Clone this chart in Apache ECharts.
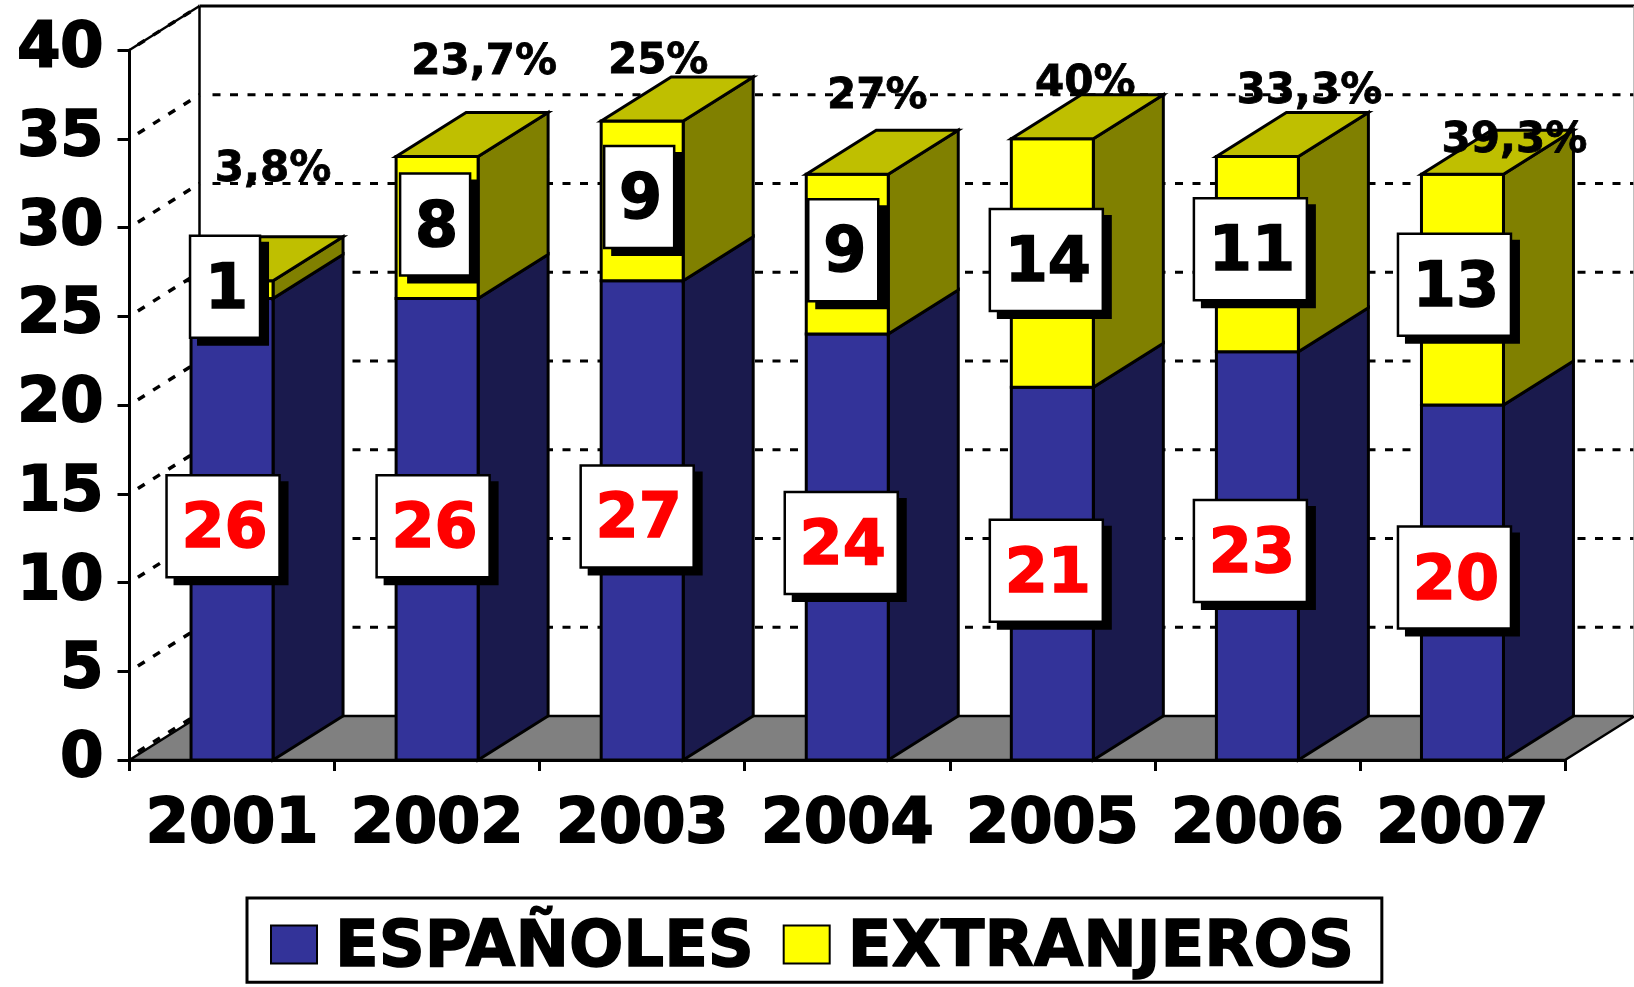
<!DOCTYPE html>
<html><head><meta charset="utf-8">
<style>html,body{margin:0;padding:0;background:#fff}#c{width:1634px;height:987px}</style>
<script src="https://cdn.jsdelivr.net/npm/echarts@6/dist/echarts.min.js"></script>
</head><body><div id="c"></div>
<script>
const years = ['2001','2002','2003','2004','2005','2006','2007'];
const espanoles = [26,26,27,24,21,23,20];
const extranjeros = [1,8,9,9,14,11,13];
const percentLabels = ['3,8%','23,7%','25%','27%','40%','33,3%','39,3%'];
const yTicks = [0,5,10,15,20,25,30,35,40];
// hand-placed annotation offsets (px) from each column's front-top centre
const pctShift = [[41,-111],[47,-93],[16,-59],[30,-77],[33,-55],[52,-64],[52,-33]];
const pctHalo = [false,false,true,true,true,false,false];
// hand-placed nudges (px) of the value boxes around each segment's centre
const boxNudge = [[-3,0],[2,0],[1,-1],[0,-1],[0,0],[-1,-2],[-2,-2]];

const FONT = '"DejaVu Sans"';
const DX = 70, DY = -44, BAR = 82, STROKE = 3;
const chart = echarts.init(document.getElementById('c'), null, {renderer:'canvas'});

function poly(points, fill){
  return {type:'polygon', shape:{points}, style:{fill, stroke:'#000', lineWidth:STROKE, lineJoin:'miter'}};
}
function segment(api, lo, hi, front, side, top){
  const c = api.coord([api.value(0), lo]);
  const t = api.coord([api.value(0), hi]);
  const l = c[0]-BAR/2, r = c[0]+BAR/2, b = c[1], u = t[1];
  const kids = [
    poly([[r,b],[r+DX,b+DY],[r+DX,u+DY],[r,u]], side),
    poly([[l,b],[r,b],[r,u],[l,u]], front)
  ];
  if (top) kids.push(poly([[l,u],[r,u],[r+DX,u+DY],[l+DX,u+DY]], top));
  return kids;
}
function box(api, lo, hi, text, color, nudge){
  const c = api.coord([api.value(0), (lo+hi)/2]);
  const two = String(text).length>1;
  const w = two ? 113 : 70, h = 102;
  const x = c[0]-(two?6:4)-w/2+nudge[0], y = c[1]-3-h/2+nudge[1];
  return [
    {type:'rect', z2:50, shape:{x:x+7,y:y+6,width:w+2,height:h+2}, style:{fill:'#000'}},
    {type:'rect', z2:51, shape:{x,y,width:w,height:h}, style:{fill:'#fff',stroke:'#000',lineWidth:2.5}},
    {type:'text', z2:52, style:{text:String(text),x:x+w/2+1.5,y:y+h/2+5,align:'center',verticalAlign:'middle',
      font:'bold 62px '+FONT,fill:color,stroke:color,lineWidth:1.5}}
  ];
}
const option = {
  animation:false,
  backgroundColor:'#fff',
  grid:{left:129.5,right:69,top:50,bottom:227,containLabel:false},
  legend:{
    left:247, top:898, orient:'horizontal', selectedMode:false,
    borderColor:'#000', borderWidth:3, backgroundColor:'#fff',
    padding:[9.5,27,0,23], itemWidth:46, itemHeight:38, itemGap:28, icon:'rect',
    formatter:'{n|{name}}',
    textStyle:{
      fontFamily:FONT,fontWeight:'bold',fontSize:64,color:'#000',
      rich:{n:{fontFamily:FONT,fontWeight:'bold',fontSize:64,lineHeight:60,color:'#000',padding:[10,0,0,13],
        textBorderColor:'#000',textBorderWidth:1.5}}
    },
    data:['ESPAÑOLES','EXTRANJEROS']
  },
  xAxis:{type:'category',data:years,boundaryGap:true,
    axisLine:{lineStyle:{color:'#000',width:3}},
    axisTick:{show:true,length:11,lineStyle:{color:'#000',width:3}},
    axisLabel:{fontFamily:FONT,fontWeight:'bold',fontSize:62,color:'#000',margin:35,interval:0,
      textBorderColor:'#000',textBorderWidth:2},
    splitLine:{show:false}
  },
  yAxis:{type:'value',min:0,max:40,interval:5,
    axisLine:{show:true,lineStyle:{color:'#000',width:3}},
    axisTick:{show:true,length:12,lineStyle:{color:'#000',width:3}},
    axisLabel:{fontFamily:FONT,fontWeight:'bold',fontSize:62,color:'#000',margin:26,padding:[8,0,0,0],
      textBorderColor:'#000',textBorderWidth:2},
    splitLine:{show:false}
  },
  series:[
    { // floor and back walls, driven by the value ticks
      type:'custom', name:'walls', silent:true, z:1, legendHoverLink:false,
      coordinateSystem:'cartesian2d', clip:false,
      data:yTicks.map(v=>[years[0],v]),
      renderItem(params, api){
        const v = api.value(1);
        const a = api.coord([years[0],v]);
        const g = params.coordSys;
        const left = g.x, right = g.x+g.width, y = a[1];
        const kids = [];
        const dashed = {fill:null,stroke:'#000',lineWidth:3.5,lineDash:[8,10]};
        const start = 0.12;
        if (v===0){
          kids.push({type:'polygon',shape:{points:[[left,y],[right,y],[right+DX,y+DY],[left+DX,y+DY]]},
            style:{fill:'#808080',stroke:'#000',lineWidth:2.5}});
          kids.push({type:'line',shape:{x1:left+DX*start,y1:y+DY*start-3,x2:left+DX,y2:y+DY-3},style:dashed});
        } else {
          kids.push({type:'line',shape:{x1:left+DX*start,y1:y+DY*start,x2:left+DX,y2:y+DY},style:dashed});
          if (v===40){
            kids.push({type:'line',shape:{x1:left,y1:y,x2:left+DX,y2:y+DY},style:{stroke:'#000',lineWidth:2.5}});
            kids.push({type:'line',shape:{x1:left+DX,y1:y+DY,x2:right+DX,y2:y+DY},style:{stroke:'#000',lineWidth:3}});
          } else {
            kids.push({type:'line',shape:{x1:left+DX+13,y1:y+DY,x2:right+DX,y2:y+DY},
              style:{stroke:'#000',lineWidth:3,lineDash:[8,9.5]}});
          }
        }
        if (v===40){
          const base = api.coord([years[0],0])[1];
          kids.push({type:'line',shape:{x1:left+DX,y1:y+DY,x2:left+DX,y2:base+DY},style:{stroke:'#000',lineWidth:2.5}});
          kids.push({type:'line',shape:{x1:right+DX-1,y1:y+DY,x2:right+DX-1,y2:base+DY},style:{stroke:'#aaa',lineWidth:1.5}});
        }
        return {type:'group',children:kids};
      }
    },
    {
      type:'custom', name:'ESPAÑOLES', z:5, clip:false,
      coordinateSystem:'cartesian2d', itemStyle:{color:'#333399',borderColor:'#000',borderWidth:3},
      data:years.map((y,i)=>[y,espanoles[i]]),
      renderItem(params, api){
        return {type:'group',children:segment(api,0,api.value(1),'#333399','#1A1A4D',null)};
      }
    },
    {
      type:'custom', name:'EXTRANJEROS', z:6, clip:false,
      coordinateSystem:'cartesian2d', itemStyle:{color:'#FFFF00',borderColor:'#000',borderWidth:3},
      data:years.map((y,i)=>[y,espanoles[i],extranjeros[i]]),
      renderItem(params, api){
        const lo = api.value(1), hi = lo+api.value(2);
        return {type:'group',children:segment(api,lo,hi,'#FFFF00','#808000','#BFBF00')};
      }
    },
    { // value boxes and percentages on top of all columns
      type:'custom', name:'labels', z:10, silent:true, clip:false, legendHoverLink:false,
      coordinateSystem:'cartesian2d',
      data:years.map((y,i)=>[y,espanoles[i],extranjeros[i],i]),
      renderItem(params, api){
        const lo = api.value(1), e = api.value(2), i = api.value(3);
        const top = api.coord([api.value(0), lo+e]);
        const kids = [...box(api,0,lo,lo,'#FF0000',boxNudge[i]),...box(api,lo,lo+e,e,'#000',boxNudge[i])];
        const s = {text:percentLabels[i],x:top[0]+pctShift[i][0],y:top[1]+pctShift[i][1],
          align:'center',verticalAlign:'middle',font:'bold 42px '+FONT,fill:'#000',stroke:'#000',lineWidth:0.8};
        if (pctHalo[i]) Object.assign(s,{shadowColor:'rgba(0,0,0,0.5)',shadowBlur:4,shadowOffsetX:3,shadowOffsetY:3});
        kids.push({type:'text',z2:60,style:s});
        return {type:'group',children:kids};
      }
    }
  ]
};
chart.setOption(option);
</script></body></html>
